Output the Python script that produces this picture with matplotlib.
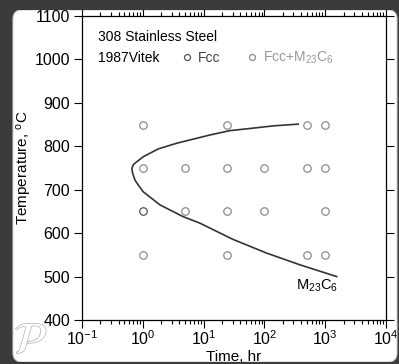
import matplotlib
matplotlib.use("Agg")
import matplotlib.pyplot as plt
from matplotlib.patches import FancyBboxPatch, Rectangle
from matplotlib.transforms import IdentityTransform
import matplotlib.patheffects as pe

plt.rcParams['font.family'] = ['Liberation Sans', 'DejaVu Sans']
plt.rcParams['mathtext.default'] = 'regular'
plt.rcParams['axes.unicode_minus'] = False

# data
fcc_time = [1]
fcc_temp = [650]

m23_time = [1, 24, 500, 1000,
            1, 5, 24, 100, 500, 1000,
            5, 24, 100, 1000,
            1, 24, 500, 1000]
m23_temp = [850, 850, 850, 850,
            750, 750, 750, 750, 750, 750,
            650, 650, 650, 650,
            550, 550, 550, 550]

# C-curve for M23C6 start, upper end -> nose -> lower end
curve_time = [360, 140, 58, 27, 12.7, 3.6, 1.8, 1.31, 1.02, 0.79, 0.70, 0.66,
              0.68, 0.745, 0.84, 1.02, 1.92, 4.6, 8.7, 30, 109, 385, 1545]
curve_temp = [851, 847, 841, 836, 826, 807, 794, 784, 776, 764, 758, 749,
              738, 722, 711, 695, 665, 638, 623, 586, 554, 527, 500]

fig = plt.figure(figsize=(3.99, 3.64), dpi=100)
fig.patch.set_facecolor('#3b3b3b')

# white rounded panel
panel = FancyBboxPatch((13, 2), 384, 352, boxstyle="round,pad=0,rounding_size=9",
                       transform=IdentityTransform(), facecolor='white',
                       edgecolor='#d0d0d0', linewidth=0.8, zorder=-10)
fig.add_artist(panel)

ax = fig.add_axes([82 / 399, 44 / 364, 304 / 399, 304 / 364])

ax.plot(curve_time, curve_temp, color='#333333', lw=1.2)
fcc = ax.plot(fcc_time, fcc_temp, 'o', mfc='none', mec='#555555', ms=5.4, mew=0.9,
              label='Fcc')[0]
m23 = ax.plot(m23_time, m23_temp, 'o', mfc='none', mec='#8c8c8c', ms=5.4, mew=0.9,
              label='Fcc+M$_{23}$C$_6$')[0]

ax.set_xscale('log')
ax.set_xlim(0.1, 1e4)
ax.set_ylim(400, 1100)
ax.set_yticks(range(400, 1101, 100))

ax.tick_params(which='both', direction='out', top=True, right=True,
               labeltop=False, labelright=False, width=0.8, labelsize=11.5)
ax.tick_params(which='major', length=5.5, pad=1.5)
ax.tick_params(axis='y', which='major', pad=3)
ax.tick_params(which='minor', length=3)
for s in ax.spines.values():
    s.set_linewidth(0.9)

ax.set_xlabel('Time, hr', fontsize=11)
ax.set_ylabel('Temperature, $^o$C', fontsize=11)
ax.xaxis.set_label_coords(0.5, -0.121)
ax.xaxis.label.set_va('center')
ax.yaxis.set_label_coords(-0.19, 0.5)
ax.yaxis.label.set_va('center')

ax.text(0.053, 0.931, '308 Stainless Steel', transform=ax.transAxes,
        fontsize=10, va='center', ha='left')
ax.text(0.053, 0.862, '1987Vitek', transform=ax.transAxes,
        fontsize=10, va='center', ha='left')
leg = ax.legend(handles=[fcc, m23], loc='center left', bbox_to_anchor=(0.333, 0.862),
                ncol=2, frameon=False, fontsize=10, markerscale=0.8,
                handlelength=0.6, handletextpad=0.45, columnspacing=2.0,
                borderpad=0, borderaxespad=0)
leg.get_texts()[0].set_color('#444444')
leg.get_texts()[1].set_color('#999999')

ax.text(1600, 478, 'M$_{23}$C$_6$', fontsize=10.5, ha='right', va='center')

# watermark logo
fig.text(31, 22, r'$\mathcal{P}$', transform=IdentityTransform(), fontsize=32,
         color='white', ha='center', va='center',
         path_effects=[pe.Stroke(linewidth=1.0, foreground='#b0b0b0'), pe.Normal()])

# dark border strips clip the panel edges
fig.add_artist(Rectangle((0, 354), 399, 10, transform=IdentityTransform(),
                         facecolor='#3b3b3b', edgecolor='none', zorder=10))
fig.add_artist(Rectangle((0, 0), 399, 2, transform=IdentityTransform(),
                         facecolor='#3b3b3b', edgecolor='none', zorder=10))

fig.savefig('out.png', dpi=100, facecolor=fig.get_facecolor())
